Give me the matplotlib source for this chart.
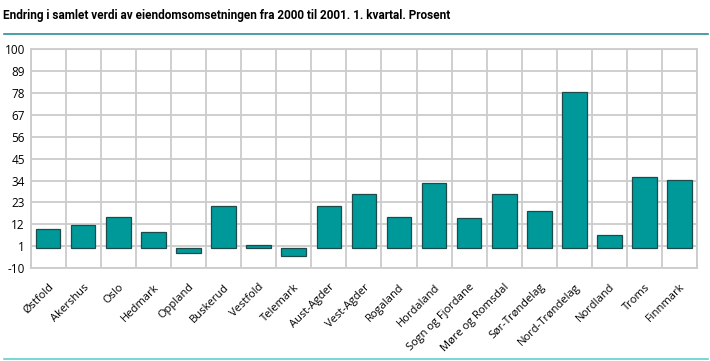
import numpy as np
import matplotlib.pyplot as plt

# ---- Data ----
counties = ["Østfold", "Akershus", "Oslo", "Hedmark", "Oppland", "Buskerud",
            "Vestfold", "Telemark", "Aust-Agder", "Vest-Agder", "Rogaland",
            "Hordaland", "Sogn og Fjordane", "Møre og Romsdal", "Sør-Trøndelag",
            "Nord-Trøndelag", "Nordland", "Troms", "Finnmark"]
change_pct = [9.4, 11.5, 15.5, 7.9, -2.3, 21.0, 1.3, -4.0, 21.0, 27.0, 15.5,
              32.6, 15.0, 27.0, 18.5, 78.8, 6.4, 35.6, 34.1]
yticks = [-10, 1, 12, 23, 34, 45, 56, 67, 78, 89, 100]

plt.rcParams['font.family'] = ['Open Sans', 'DejaVu Sans']

fig = plt.figure(figsize=(7.10, 3.61), dpi=100)
ax = fig.add_axes([0.043, 0.258, 0.939, 0.605])

x = np.arange(len(counties))
ax.bar(x, change_pct, width=0.7, color='#009999', edgecolor='#1f4a4a',
       linewidth=0.9, zorder=3)

ax.set_xlim(-0.5, len(counties) - 0.5)
ax.set_ylim(-10, 100)
ax.set_yticks(yticks)
ax.set_yticklabels([str(t) for t in yticks], fontsize=8.5)
ax.set_xticks(x)
ax.set_xticklabels(counties, rotation=45, ha='right', rotation_mode='anchor',
                   fontsize=8)
ax.tick_params(axis='x', pad=10)
ax.tick_params(axis='y', pad=4)

# vertical lines between categories
ax.set_xticks(np.arange(-0.5, len(counties), 1), minor=True)
ax.grid(True, which='minor', axis='x', color='#cccccc', linewidth=1.3, zorder=0)
ax.grid(True, which='major', axis='y', color='#cccccc', linewidth=1.3, zorder=0)
ax.grid(False, which='major', axis='x')
ax.tick_params(which='both', length=0)
for s in ax.spines.values():
    s.set_color('#cccccc')
    s.set_linewidth(1.3)

fig.text(0.004, 0.975, "Endring i samlet verdi av eiendomsomsetningen fra 2000 til 2001. 1. kvartal. Prosent",
         fontsize=8.5, fontweight='bold', va='top', ha='left',
         family=['Roboto', 'DejaVu Sans'])
fig.add_artist(plt.Line2D([0.006, 0.997], [0.905, 0.905], color='#2a8f96', linewidth=1.2))
fig.add_artist(plt.Line2D([0.006, 0.997], [0.006, 0.006], color='#66cccc', linewidth=1.2))

fig.savefig("out.png", dpi=100)
